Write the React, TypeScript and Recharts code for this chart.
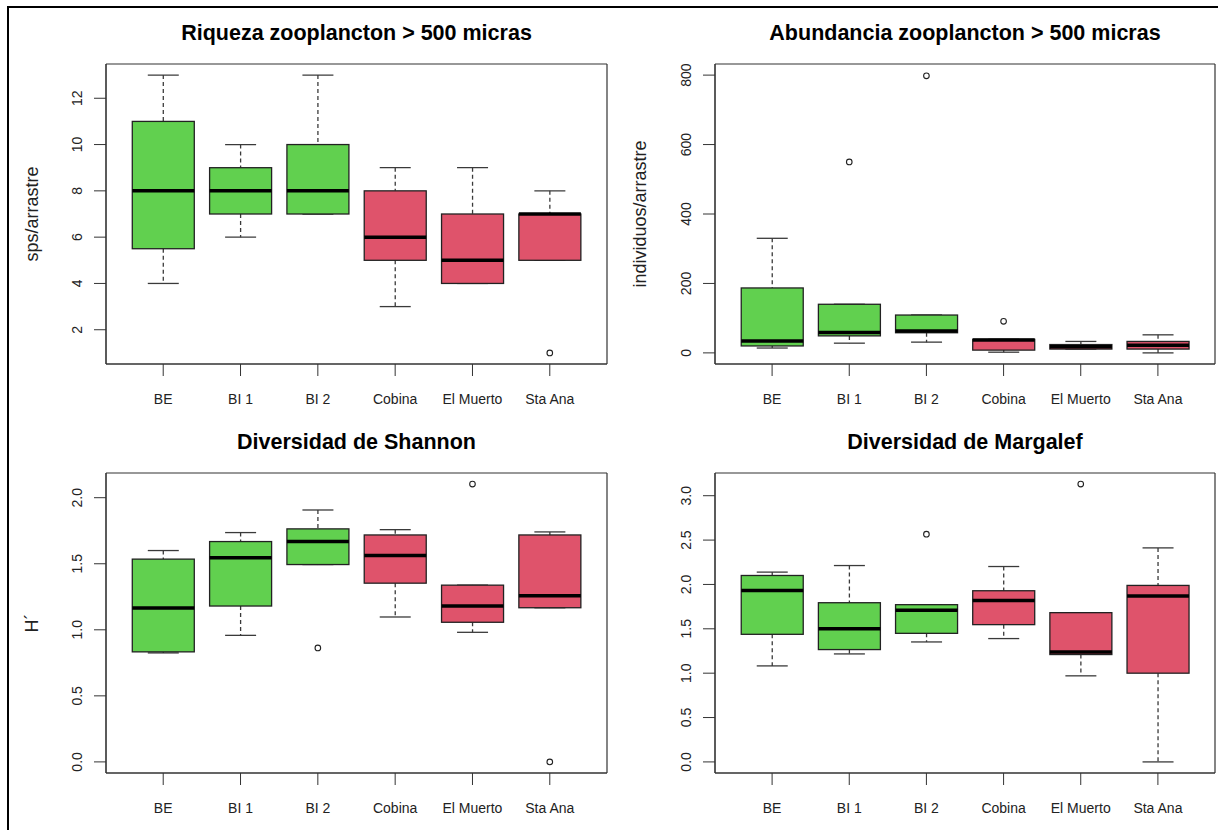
import React from "react";
import { ComposedChart, Bar, Line, XAxis, YAxis, CartesianGrid } from "recharts";

const FONT = "'Liberation Sans', Arial, sans-serif";

const categories = ["BE", "BI 1", "BI 2", "Cobina", "El Muerto", "Sta Ana"];
const boxColors = ["#61D04F", "#61D04F", "#61D04F", "#DF536B", "#DF536B", "#DF536B"];

// Riqueza zooplancton
const riqLow = [4, 6, 7, 3, 4, 5];
const riqQ1 = [5.5, 7, 7, 5, 4, 5];
const riqMed = [8, 8, 8, 6, 5, 7];
const riqQ3 = [11, 9, 10, 8, 7, 7];
const riqHigh = [13, 10, 13, 9, 9, 8];
const riqOut = [null, null, null, null, null, 1];
const riqTicks = [2, 4, 6, 8, 10, 12];

// Abundancia zooplancton
const abuLow = [14, 28, 31, 2, 11, 0];
const abuQ1 = [20, 49, 58, 8, 11, 11];
const abuMed = [34, 59, 63, 37, 18, 22];
const abuQ3 = [187, 140, 109, 39, 24, 33];
const abuHigh = [330, 140, 109, 39, 33, 52];
const abuOut = [null, 550, 798, 91, null, null];
const abuTicks = [0, 200, 400, 600, 800];

// Diversidad de Shannon
const shaLow = [0.825, 0.958, 1.494, 1.097, 0.981, 1.167];
const shaQ1 = [0.833, 1.18, 1.494, 1.353, 1.057, 1.167];
const shaMed = [1.165, 1.545, 1.668, 1.562, 1.18, 1.258];
const shaQ3 = [1.535, 1.668, 1.764, 1.718, 1.338, 1.718];
const shaHigh = [1.6, 1.736, 1.907, 1.758, 1.338, 1.741];
const shaOut = [null, null, 0.863, null, 2.103, 0.0];
const shaTicks = [0, 0.5, 1, 1.5, 2];

// Diversidad de Margalef
const marLow = [1.082, 1.217, 1.352, 1.39, 0.97, 0.0];
const marQ1 = [1.438, 1.266, 1.449, 1.547, 1.21, 1.0];
const marMed = [1.933, 1.502, 1.708, 1.82, 1.24, 1.869];
const marQ3 = [2.101, 1.794, 1.772, 1.929, 1.682, 1.989];
const marHigh = [2.139, 2.213, 1.772, 2.202, 1.682, 2.412];
const marOut = [null, null, 2.566, null, 3.131, null];
const marTicks = [0, 0.5, 1, 1.5, 2, 2.5, 3];

function buildData(lo: number[], q1: number[], med: number[], q3: number[], hi: number[], out: (number | null)[]) {
  return categories.map((cat, i) => ({
    cat,
    range: [lo[i], hi[i]],
    lo: lo[i],
    q1: q1[i],
    med: med[i],
    q3: q3[i],
    hi: hi[i],
    out: out[i],
    color: boxColors[i],
  }));
}

const BoxShape = (props: any) => {
  const { x, y, width, height, payload } = props;
  const { lo, hi, q1, med, q3, color } = payload;
  const py = (v: number) => y + ((hi - v) / (hi - lo)) * height;
  const cx = x + width / 2;
  const cap = width / 4;
  const wc = "#3a3a3a";
  return (
    <g>
      <line x1={cx} x2={cx} y1={py(hi)} y2={py(q3)} stroke={wc} strokeWidth={1.3} strokeDasharray="4 3" />
      <line x1={cx} x2={cx} y1={py(q1)} y2={py(lo)} stroke={wc} strokeWidth={1.3} strokeDasharray="4 3" />
      <line x1={cx - cap} x2={cx + cap} y1={py(hi)} y2={py(hi)} stroke={wc} strokeWidth={1.3} />
      <line x1={cx - cap} x2={cx + cap} y1={py(lo)} y2={py(lo)} stroke={wc} strokeWidth={1.3} />
      <rect x={x} y={py(q3)} width={width} height={py(q1) - py(q3)} fill={color} stroke="#222" strokeWidth={1.3} />
      <line x1={x} x2={x + width} y1={py(med)} y2={py(med)} stroke="#000" strokeWidth={3.5} />
    </g>
  );
};

const OutDot = (props: any) => {
  const { cx, cy, value, index } = props;
  if (value == null || cy == null || isNaN(cy)) return <g key={`o${index}`} />;
  return <circle key={`o${index}`} cx={cx} cy={cy} r={2.8} fill="#fff" stroke="#222" strokeWidth={1.1} />;
};

const YTick = (props: any) => {
  const { x, y, payload, fmt } = props;
  const tx = x - 10;
  return (
    <text
      x={tx}
      y={y}
      transform={`rotate(-90 ${tx} ${y})`}
      textAnchor="middle"
      fontSize={14}
      fill="#222"
      fontFamily={FONT}
    >
      {fmt(payload.value)}
    </text>
  );
};

const YLabel = (props: any) => {
  const { viewBox, text, dx } = props;
  const cx = viewBox.x + dx;
  const cy = viewBox.y + viewBox.height / 2;
  return (
    <text
      x={cx}
      y={cy}
      transform={`rotate(-90 ${cx} ${cy})`}
      textAnchor="middle"
      dominantBaseline="central"
      fontSize={18}
      fill="#222"
      fontFamily={FONT}
    >
      {text}
    </text>
  );
};

const frameH = (args: any) => [args.offset.top, args.offset.top + args.offset.height];
const frameV = (args: any) => [args.offset.left, args.offset.left + args.offset.width];

type PanelProps = {
  left: number;
  top: number;
  width: number;
  marginTop: number;
  yAxisWidth: number;
  title: string;
  yLabel?: string;
  labelDx: number;
  data: any[];
  domain: [number, number];
  ticks: number[];
  fmt: (v: number) => string;
};

const Panel = (p: PanelProps) => {
  const height = 415;
  const plotBottom = p.marginTop + 300;
  const xAxisHeight = height - plotBottom;
  const plotWidth = p.width - 3 - p.yAxisWidth;
  const pad = plotWidth * (0.24 / 6.48);
  return (
    <div style={{ position: "absolute", left: p.left, top: p.top, width: p.width, height }}>
      <div
        style={{
          position: "absolute",
          left: p.yAxisWidth,
          width: plotWidth,
          top: p.marginTop - 31 - 12,
          height: 24,
          lineHeight: "24px",
          textAlign: "center",
          fontFamily: FONT,
          fontWeight: "bold",
          fontSize: 21.5,
          color: "#000",
        }}
      >
        {p.title}
      </div>
      <ComposedChart
        width={p.width}
        height={height}
        data={p.data}
        margin={{ top: p.marginTop, right: 3, bottom: 0, left: 0 }}
        barCategoryGap="10%"
      >
        <CartesianGrid
          stroke="#333"
          strokeWidth={1.2}
          fill="none"
          horizontalCoordinatesGenerator={frameH}
          verticalCoordinatesGenerator={frameV}
        />
        <XAxis
          dataKey="cat"
          height={xAxisHeight}
          padding={{ left: pad, right: pad }}
          interval={0}
          tickSize={12}
          tickMargin={18}
          tickLine={{ stroke: "#333" }}
          axisLine={{ stroke: "#333" }}
          tick={{ fontSize: 14, fill: "#222", fontFamily: FONT }}
        />
        <YAxis
          type="number"
          width={p.yAxisWidth}
          domain={p.domain}
          allowDataOverflow
          ticks={p.ticks}
          interval={0}
          tickSize={12}
          tickLine={{ stroke: "#333" }}
          axisLine={{ stroke: "#333" }}
          tick={<YTick fmt={p.fmt} />}
          label={p.yLabel ? <YLabel text={p.yLabel} dx={p.labelDx} /> : undefined}
        />
        <Bar dataKey="range" isAnimationActive={false} shape={<BoxShape />} />
        <Line
          dataKey="out"
          stroke="none"
          isAnimationActive={false}
          dot={(d: any) => <OutDot {...d} />}
          activeDot={false}
          connectNulls={false}
        />
      </ComposedChart>
    </div>
  );
};

const riqData = buildData(riqLow, riqQ1, riqMed, riqQ3, riqHigh, riqOut);
const abuData = buildData(abuLow, abuQ1, abuMed, abuQ3, abuHigh, abuOut);
const shaData = buildData(shaLow, shaQ1, shaMed, shaQ3, shaHigh, shaOut);
const marData = buildData(marLow, marQ1, marMed, marQ3, marHigh, marOut);

export default function App() {
  return (
    <div style={{ position: "absolute", left: 0, top: 0, width: 1218, height: 830, background: "#fff", overflow: "hidden" }}>
      <div
        style={{
          position: "absolute",
          left: 7,
          top: 6,
          width: 1211,
          height: 824,
          borderTop: "2px solid #000",
          borderLeft: "2px solid #000",
        }}
      />
      <Panel
        left={0}
        top={0}
        width={610}
        marginTop={64}
        yAxisWidth={106}
        title="Riqueza zooplancton > 500 micras"
        yLabel="sps/arrastre"
        labelDx={32}
        data={riqData}
        domain={[0.52, 13.48]}
        ticks={riqTicks}
        fmt={(v) => String(v)}
      />
      <Panel
        left={610}
        top={0}
        width={608}
        marginTop={64}
        yAxisWidth={105}
        title="Abundancia zooplancton > 500 micras"
        yLabel="individuos/arrastre"
        labelDx={30}
        data={abuData}
        domain={[-32, 832]}
        ticks={abuTicks}
        fmt={(v) => String(v)}
      />
      <Panel
        left={0}
        top={415}
        width={610}
        marginTop={58}
        yAxisWidth={106}
        title="Diversidad de Shannon"
        yLabel="H´"
        labelDx={32}
        data={shaData}
        domain={[-0.084, 2.187]}
        ticks={shaTicks}
        fmt={(v) => v.toFixed(1)}
      />
      <Panel
        left={610}
        top={415}
        width={608}
        marginTop={58}
        yAxisWidth={105}
        title="Diversidad de Margalef"
        labelDx={30}
        data={marData}
        domain={[-0.125, 3.256]}
        ticks={marTicks}
        fmt={(v) => v.toFixed(1)}
      />
    </div>
  );
}
